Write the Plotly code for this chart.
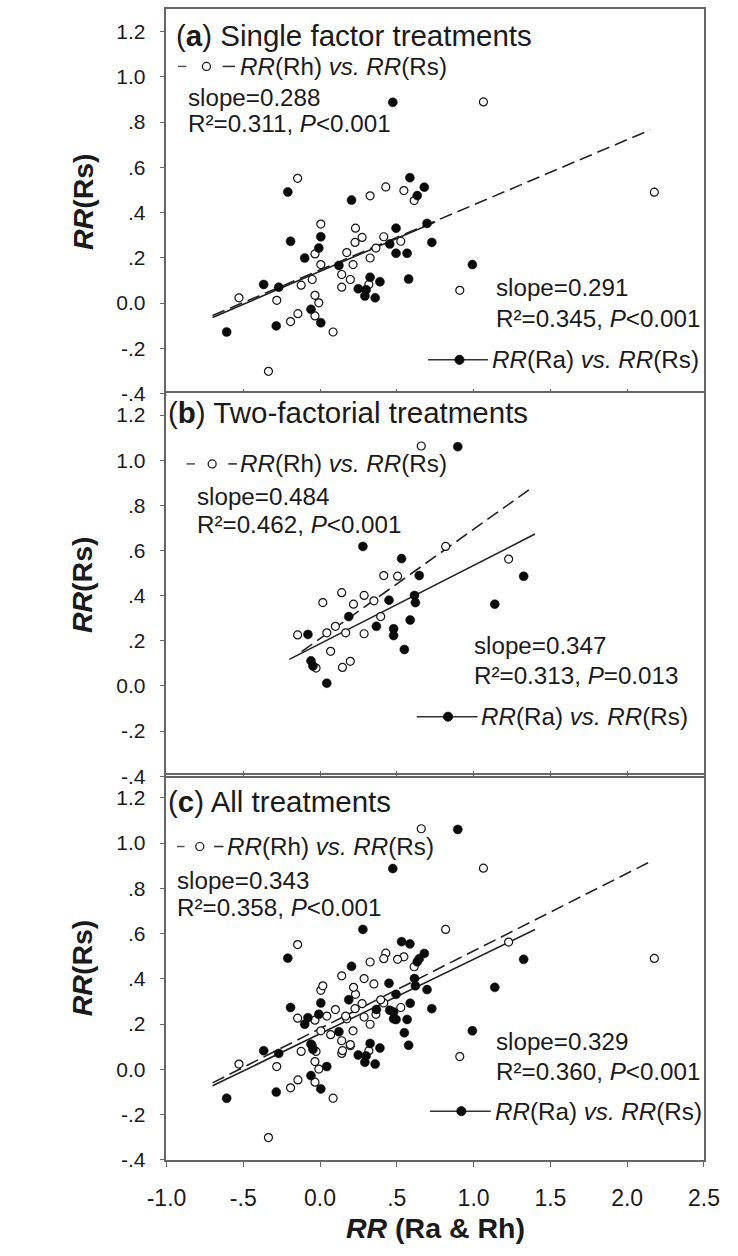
import plotly.graph_objects as go

# ---------------- data ----------------
# Panel (a) single factor treatments
a_rh_x = [1.064, -0.146, 0.428, 0.326, 0.546, 0.613, 2.177, 0.005, 0.231, 0.274, 0.228, 0.415,
          0.526, 0.364, -0.033, 0.174, 0.326, 0.005, 0.215, 0.141, 0.197, -0.051, -0.123, 0.141,
          0.318, 0.910, -0.528, -0.282, -0.033, -0.008, -0.033, -0.144, -0.192, 0.085, -0.336]
a_rh_y = [0.889, 0.551, 0.513, 0.474, 0.497, 0.453, 0.490, 0.349, 0.331, 0.290, 0.268, 0.293,
          0.273, 0.243, 0.217, 0.223, 0.199, 0.170, 0.170, 0.126, 0.104, 0.104, 0.079, 0.070,
          0.082, 0.056, 0.023, 0.012, 0.034, 0.001, -0.057, -0.047, -0.082, -0.128, -0.302]
a_ra_x = [0.474, 0.585, 0.679, 0.633, -0.210, 0.205, 0.495, 0.697, -0.192, 0.005, -0.008, 0.728,
          0.454, -0.100, 0.495, 0.567, 0.123, 0.992, 0.577, -0.367, -0.269, 0.326, 0.390, 0.249,
          0.300, 0.292, 0.359, -0.059, 0.005, -0.285, -0.608]
a_ra_y = [0.887, 0.554, 0.512, 0.475, 0.491, 0.455, 0.331, 0.352, 0.273, 0.293, 0.243, 0.268,
          0.261, 0.199, 0.220, 0.220, 0.166, 0.170, 0.106, 0.082, 0.070, 0.114, 0.094, 0.063,
          0.059, 0.031, 0.023, -0.028, -0.087, -0.101, -0.128]

# Panel (b) two-factorial treatments
b_rh_x = [0.659, 0.818, 1.228, 0.415, 0.505, 0.141, 0.018, 0.287, 0.218, 0.351, 0.395, 0.100,
          0.044, 0.167, 0.287, -0.146, 0.069, 0.197, 0.146, -0.026]
b_rh_y = [1.063, 0.618, 0.562, 0.489, 0.486, 0.413, 0.369, 0.401, 0.362, 0.377, 0.307, 0.264,
          0.235, 0.235, 0.231, 0.226, 0.153, 0.109, 0.082, 0.079]
b_ra_x = [0.897, 0.279, 0.531, 0.646, 1.326, 0.615, 0.621, 0.449, 1.138, 0.187, 0.587, 0.367,
          0.479, 0.479, -0.079, 0.549, -0.059, -0.046, 0.044]
b_ra_y = [1.060, 0.618, 0.564, 0.489, 0.486, 0.401, 0.369, 0.380, 0.362, 0.307, 0.292, 0.264,
          0.253, 0.223, 0.228, 0.161, 0.111, 0.088, 0.012]

# Panel (c) all treatments = (a) + (b)
c_rh_x = a_rh_x + b_rh_x
c_rh_y = a_rh_y + b_rh_y
c_ra_x = a_ra_x + b_ra_x
c_ra_y = a_ra_y + b_ra_y

# regression lines: slope, intercept, x-start, x-end
rh_fit = {"a": (0.288, 0.146, -0.70, 2.15), "b": (0.484, 0.210, -0.12, 1.36), "c": (0.343, 0.180, -0.70, 2.14)}
ra_fit = {"a": (0.291, 0.140, -0.70, 0.75), "b": (0.347, 0.187, -0.20, 1.40), "c": (0.329, 0.157, -0.70, 1.40)}

panel_titles = ["(<b>a</b>) Single factor treatments",
                "(<b>b</b>) Two-factorial treatments",
                "(<b>c</b>) All treatments"]
rh_stats = [("slope=0.288", "R²=0.311, <i>P</i>&lt;0.001"),
            ("slope=0.484", "R²=0.462, <i>P</i>&lt;0.001"),
            ("slope=0.343", "R²=0.358, <i>P</i>&lt;0.001")]
ra_stats = [("slope=0.291", "R²=0.345, <i>P</i>&lt;0.001"),
            ("slope=0.347", "R²=0.313, <i>P</i>=0.013"),
            ("slope=0.329", "R²=0.360, <i>P</i>&lt;0.001")]
rh_label = "<i>RR</i>(Rh) <i>vs.</i> <i>RR</i>(Rs)"
ra_label = "<i>RR</i>(Ra) <i>vs.</i> <i>RR</i>(Rs)"

y_tickvals = [-0.4, -0.2, 0.0, 0.2, 0.4, 0.6, 0.8, 1.0, 1.2]
y_ticktext = ["-.4", "-.2", "0.0", ".2", ".4", ".6", ".8", "1.0", "1.2"]
x_tickvals = [-1.0, -0.5, 0.0, 0.5, 1.0, 1.5, 2.0, 2.5]
x_ticktext = ["-1.0", "-.5", "0.0", ".5", "1.0", "1.5", "2.0", "2.5"]

# ---------------- layout geometry (pixels) ----------------
W, H = 738, 1256
PX_L, PX_R = 154, 719
panel_px = [(9, 397), (396, 783), (782, 1170)]  # top, bottom


def px(x):
    return x / W


def py(y):
    return 1 - y / H


FONT = "Liberation Sans, Arial, sans-serif"
TXT = "#1a1a1a"
AX = "#666666"
F_YTICK = 21
F_XTICK = 23
F_TEXT = 24.2
F_TITLE = 29.5
F_AXT = 28.5

fig = go.Figure()

panels = [
    (a_rh_x, a_rh_y, a_ra_x, a_ra_y, "a"),
    (b_rh_x, b_rh_y, b_ra_x, b_ra_y, "b"),
    (c_rh_x, c_rh_y, c_ra_x, c_ra_y, "c"),
]

for i, (rx, ry, ax_, ay_, key) in enumerate(panels):
    xa = "x" if i == 0 else f"x{i+1}"
    ya = "y" if i == 0 else f"y{i+1}"
    s, b, x0, x1 = ra_fit[key]
    fig.add_trace(go.Scatter(x=[x0, x1], y=[s * x0 + b, s * x1 + b], mode="lines",
                             line=dict(color="#222", width=1.6), xaxis=xa, yaxis=ya,
                             showlegend=False, hoverinfo="skip"))
    s, b, x0, x1 = rh_fit[key]
    fig.add_trace(go.Scatter(x=[x0, x1], y=[s * x0 + b, s * x1 + b], mode="lines",
                             line=dict(color="#222", width=1.6, dash="13px,6px"), xaxis=xa, yaxis=ya,
                             showlegend=False, hoverinfo="skip"))
    fig.add_trace(go.Scatter(x=rx, y=ry, mode="markers", xaxis=xa, yaxis=ya, showlegend=False,
                             marker=dict(symbol="circle", size=8, color="white",
                                         line=dict(color="#111", width=1.2))))
    fig.add_trace(go.Scatter(x=ax_, y=ay_, mode="markers", xaxis=xa, yaxis=ya, showlegend=False,
                             marker=dict(symbol="circle", size=9, color="#0a0a0a",
                                         line=dict(color="#0a0a0a", width=0.5))))

layout = dict(
    width=W, height=H, margin=dict(l=0, r=0, t=0, b=0),
    paper_bgcolor="white", plot_bgcolor="white",
    font=dict(family=FONT, color=TXT, size=F_YTICK),
    showlegend=False,
)
for i, (top, bot) in enumerate(panel_px):
    xk = "xaxis" if i == 0 else f"xaxis{i+1}"
    yk = "yaxis" if i == 0 else f"yaxis{i+1}"
    last = (i == 2)
    xd = dict(
        domain=[px(PX_L), px(PX_R)], range=[-1.0, 2.5], anchor="y" if i == 0 else f"y{i+1}",
        tickvals=x_tickvals, showticklabels=last,
        ticks="outside" if last else "inside", ticklen=5, tickwidth=1.3,
        tickcolor=AX, showline=True, linecolor=AX, linewidth=1.6, mirror=True,
        showgrid=False, zeroline=False, tickfont=dict(size=F_XTICK, color=TXT, family=FONT),
    )
    if last:
        xd["ticktext"] = x_ticktext
        xd["ticklabelstandoff"] = 12
    layout[xk] = xd
    layout[yk] = dict(
        domain=[py(bot), py(top)], range=[-0.4, 1.3], anchor="x" if i == 0 else f"x{i+1}",
        tickvals=y_tickvals, ticktext=y_ticktext, ticks="outside", ticklen=5, tickwidth=1.3,
        tickcolor=AX, showline=True, linecolor=AX, linewidth=1.6, mirror=True,
        showgrid=False, zeroline=False, tickfont=dict(size=F_YTICK, color=TXT, family=FONT),
        ticklabelstandoff=10,
    )
fig.update_layout(**layout)

annotations = []
shapes = []

# positions (pixel) per panel
title_pos = [(162, 36), (154, 416), (154, 809)]
rh_leg = [  # dash1 x0, dash1 x1, circle x, dash2 x0, dash2 x1, text x, y
    (166, 175, 196, 213, 226, 229, 67),
    (175, 184, 202, 219, 228, 229, 468),
    (165, 173, 189, 204, 214, 215, 854)]
rh_stat_pos = [(174, 98, 125), (184, 501, 529), (163, 888, 916)]
ra_stat_pos = [(498, 290, 321), (475, 651, 681), (498, 1051, 1081)]
ra_leg = [  # line start x, dot x, text x, y
    (429, 462, 494, 363), (417, 450, 483, 723), (431, 464, 497, 1121)]

for i in range(3):
    tx, ty = title_pos[i]
    annotations.append(dict(x=px(tx), y=py(ty), xref="paper", yref="paper", text=panel_titles[i],
                            showarrow=False, xanchor="left", yanchor="middle",
                            font=dict(size=F_TITLE, family=FONT, color=TXT)))
    # Rh legend sample: dash - circle - dash
    d0, d1, cx, e0, e1, tx2, yy = rh_leg[i]
    shapes.append(dict(type="line", xref="paper", yref="paper", x0=px(d0), x1=px(d1),
                       y0=py(yy), y1=py(yy), line=dict(color="#555", width=1.5)))
    shapes.append(dict(type="line", xref="paper", yref="paper", x0=px(e0), x1=px(e1),
                       y0=py(yy), y1=py(yy), line=dict(color="#333", width=1.6)))
    shapes.append(dict(type="circle", xref="paper", yref="paper", xsizemode="pixel", ysizemode="pixel",
                       xanchor=px(cx), yanchor=py(yy), x0=-4, x1=4, y0=-4, y1=4,
                       line=dict(color="#111", width=1.2), fillcolor="white"))
    annotations.append(dict(x=px(tx2), y=py(yy), xref="paper", yref="paper", text=rh_label,
                            showarrow=False, xanchor="left", yanchor="middle",
                            font=dict(size=F_TEXT, family=FONT, color=TXT)))
    sx, y1, y2 = rh_stat_pos[i]
    annotations.append(dict(x=px(sx), y=py(y1), xref="paper", yref="paper", text=rh_stats[i][0],
                            showarrow=False, xanchor="left", yanchor="middle",
                            font=dict(size=F_TEXT, family=FONT, color=TXT)))
    annotations.append(dict(x=px(sx), y=py(y2), xref="paper", yref="paper", text=rh_stats[i][1],
                            showarrow=False, xanchor="left", yanchor="middle",
                            font=dict(size=F_TEXT, family=FONT, color=TXT)))
    sx, y1, y2 = ra_stat_pos[i]
    annotations.append(dict(x=px(sx), y=py(y1), xref="paper", yref="paper", text=ra_stats[i][0],
                            showarrow=False, xanchor="left", yanchor="middle",
                            font=dict(size=F_TEXT, family=FONT, color=TXT)))
    annotations.append(dict(x=px(sx), y=py(y2), xref="paper", yref="paper", text=ra_stats[i][1],
                            showarrow=False, xanchor="left", yanchor="middle",
                            font=dict(size=F_TEXT, family=FONT, color=TXT)))
    l0, dx, tx3, yy = ra_leg[i]
    shapes.append(dict(type="line", xref="paper", yref="paper", x0=px(l0), x1=px(tx3 - 2),
                       y0=py(yy), y1=py(yy), line=dict(color="#333", width=1.5)))
    shapes.append(dict(type="circle", xref="paper", yref="paper", xsizemode="pixel", ysizemode="pixel",
                       xanchor=px(dx), yanchor=py(yy), x0=-4.5, x1=4.5, y0=-4.5, y1=4.5,
                       line=dict(color="#0a0a0a", width=1), fillcolor="#0a0a0a"))
    annotations.append(dict(x=px(tx3), y=py(yy), xref="paper", yref="paper", text=ra_label,
                            showarrow=False, xanchor="left", yanchor="middle",
                            font=dict(size=F_TEXT, family=FONT, color=TXT)))
    # y-axis title
    top, bot = panel_px[i]
    annotations.append(dict(x=px(66), y=py((top + bot) / 2), xref="paper", yref="paper",
                            text="<b><i>RR</i>(Rs)</b>", textangle=-90, showarrow=False,
                            xanchor="center", yanchor="middle",
                            font=dict(size=F_AXT, family=FONT, color=TXT)))

annotations.append(dict(x=px((PX_L + PX_R) / 2), y=py(1239), xref="paper", yref="paper",
                        text="<b><i>RR</i> (Ra &amp; Rh)</b>", showarrow=False,
                        xanchor="center", yanchor="middle", font=dict(size=F_AXT, family=FONT, color=TXT)))

fig.update_layout(annotations=annotations, shapes=shapes)
fig.write_html("out.html")
